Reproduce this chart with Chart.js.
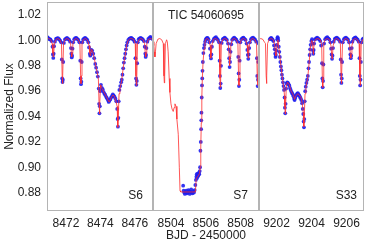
<!DOCTYPE html>
<html>
<head>
<meta charset="utf-8">
<script src="https://cdn.jsdelivr.net/npm/chart.js@4"></script>
<style>
  body { margin: 0; background: #fff; }
  #wrap { position: relative; width: 366px; height: 246px; }
  #wrap canvas { position: absolute; top: 0; }
</style>
</head>
<body>
<div id="wrap">
  <canvas id="c_s6" style="left:0px" width="153" height="246"></canvas>
  <canvas id="c_s7" style="left:153px" width="106" height="246"></canvas>
  <canvas id="c_s33" style="left:259px" width="107" height="246"></canvas>
</div>
<script>
// ---- data: [BJD-2450000, normalized flux] ----
const yRange = [0.8655, 1.0303];
const yTicks = [0.88, 0.90, 0.92, 0.94, 0.96, 0.98, 1.00, 1.02];

const s6Range = [8470.9, 8477.05];
const s6Ticks = [8472, 8474, 8476];
const s7Range = [8502.97, 8509.05];
const s7Ticks = [8504, 8506, 8508];
const s33Range = [9201.0, 9207.0];
const s33Ticks = [9202, 9204, 9206];

// model light curve (red line)
const s6Model = [
  [8470.90,1.0010],[8471.00,1.0015],[8471.12,1.0005],[8471.20,0.9975],[8471.24,0.9900],[8471.264,0.9870],
  [8471.29,0.9900],[8471.33,0.9975],[8471.42,1.0008],[8471.53,1.0015],[8471.65,1.0005],[8471.74,0.9975],
  [8471.78,0.9720],[8471.80,0.9660],[8471.82,0.9720],[8471.86,0.9975],[8471.95,1.0008],[8472.07,1.0015],
  [8472.19,1.0005],[8472.27,0.9975],[8472.31,0.9900],[8472.336,0.9870],[8472.36,0.9900],[8472.40,0.9975],
  [8472.49,1.0008],[8472.60,1.0015],[8472.72,1.0005],[8472.81,0.9975],[8472.85,0.9720],[8472.872,0.9660],
  [8472.89,0.9720],[8472.93,0.9975],[8473.02,1.0008],[8473.14,1.0015],[8473.26,1.0000],[8473.34,0.9960],
  [8473.38,0.9900],[8473.41,0.9880],[8473.44,0.9900],[8473.50,0.9930],[8473.58,0.9900],[8473.70,0.9820],
  [8473.79,0.9760],[8473.88,0.9700],[8473.92,0.9500],[8473.944,0.9420],[8473.97,0.9500],[8474.01,0.9650],
  [8474.10,0.9620],[8474.21,0.9590],[8474.33,0.9560],[8474.44,0.9530],[8474.50,0.9515],[8474.56,0.9530],
  [8474.67,0.9560],[8474.73,0.9570],[8474.80,0.9560],[8474.90,0.9520],[8474.97,0.9480],[8474.995,0.9380],
  [8475.016,0.9315],[8475.04,0.9400],[8475.08,0.9580],[8475.13,0.9620],[8475.23,0.9680],[8475.30,0.9760],
  [8475.36,0.9820],[8475.42,0.9870],[8475.52,0.9960],[8475.60,1.0000],[8475.70,1.0012],[8475.82,1.0015],
  [8475.94,1.0005],[8476.02,0.9975],[8476.06,0.9720],[8476.088,0.9645],[8476.11,0.9720],[8476.15,0.9975],
  [8476.24,1.0008],[8476.36,1.0015],[8476.48,1.0005],[8476.56,0.9975],[8476.60,0.9900],[8476.624,0.9870],
  [8476.65,0.9900],[8476.69,0.9975],[8476.78,1.0008],[8476.90,1.0015],[8477.05,1.0005]
];
const s7Model = [
  [8502.97,0.9990],[8503.02,0.9960],[8503.05,0.9910],[8503.08,0.9870],[8503.11,0.9910],[8503.15,0.9975],
  [8503.25,1.0010],[8503.36,1.0015],[8503.47,1.0005],[8503.56,0.9975],[8503.60,0.9720],[8503.62,0.9665],
  [8503.64,0.9720],[8503.68,0.9975],[8503.75,1.0005],[8503.79,0.9990],[8503.84,0.9910],[8503.90,0.9700],
  [8503.94,0.9590],[8504.00,0.9500],[8504.06,0.9460],[8504.13,0.9440],[8504.18,0.9470],[8504.23,0.9500],
  [8504.29,0.9480],[8504.34,0.9380],[8504.42,0.9260],[8504.48,0.9000],[8504.52,0.8815],[8504.56,0.8805],
  [8505.40,0.8805],[8505.45,0.8910],[8505.55,0.8930],[8505.64,0.8950],[8505.68,0.9000],[8505.71,0.9160],
  [8505.74,0.9350],[8505.77,0.9550],[8505.80,0.9700],[8505.84,0.9830],[8505.90,0.9930],[8505.95,0.9990],
  [8506.02,1.0012],[8506.10,1.0015],[8506.19,1.0000],[8506.25,0.9960],[8506.27,0.9900],[8506.295,0.9860],
  [8506.32,0.9900],[8506.36,0.9970],[8506.45,1.0010],[8506.56,1.0015],[8506.68,1.0005],[8506.77,0.9975],
  [8506.81,0.9700],[8506.83,0.9630],[8506.85,0.9700],[8506.89,0.9975],[8506.98,1.0008],[8507.10,1.0015],
  [8507.22,1.0005],[8507.30,0.9960],[8507.34,0.9870],[8507.365,0.9800],[8507.39,0.9870],[8507.43,0.9960],
  [8507.52,1.0008],[8507.63,1.0015],[8507.75,1.0005],[8507.84,0.9975],[8507.88,0.9700],[8507.90,0.9645],
  [8507.92,0.9700],[8507.96,0.9975],[8508.05,1.0008],[8508.17,1.0015],[8508.29,1.0005],[8508.37,0.9965],
  [8508.41,0.9900],[8508.435,0.9860],[8508.46,0.9900],[8508.50,0.9965],[8508.59,1.0008],[8508.70,1.0015],
  [8508.82,1.0005],[8508.91,0.9975],[8508.95,0.9700],[8508.97,0.9645],[8508.99,0.9700],[8509.03,0.9975],
  [8509.06,1.0005]
];
const s33Model = [
  [9201.00,1.0005],[9201.10,1.0015],[9201.22,1.0008],[9201.32,0.9985],[9201.37,0.9975],[9201.41,0.9720],
  [9201.43,0.9660],[9201.45,0.9720],[9201.49,0.9975],[9201.58,1.0008],[9201.70,1.0015],[9201.82,1.0005],
  [9201.90,0.9960],[9201.94,0.9900],[9201.965,0.9880],[9201.99,0.9900],[9202.03,0.9975],[9202.08,1.0005],
  [9202.16,0.9910],[9202.25,0.9800],[9202.34,0.9700],[9202.42,0.9620],[9202.46,0.9560],[9202.48,0.9470],
  [9202.50,0.9420],[9202.52,0.9480],[9202.56,0.9640],[9202.63,0.9670],[9202.73,0.9650],[9202.82,0.9605],
  [9202.92,0.9580],[9202.98,0.9560],[9203.035,0.9535],[9203.09,0.9560],[9203.21,0.9580],[9203.30,0.9570],
  [9203.40,0.9550],[9203.47,0.9500],[9203.53,0.9430],[9203.55,0.9370],[9203.57,0.9320],[9203.59,0.9400],
  [9203.63,0.9580],[9203.68,0.9630],[9203.78,0.9700],[9203.87,0.9830],[9203.93,0.9940],[9204.01,1.0000],
  [9204.06,0.9990],[9204.09,0.9920],[9204.105,0.9890],[9204.12,0.9920],[9204.16,0.9985],[9204.25,1.0010],
  [9204.37,1.0015],[9204.49,1.0005],[9204.58,0.9975],[9204.62,0.9700],[9204.64,0.9630],[9204.66,0.9700],
  [9204.70,0.9975],[9204.79,1.0008],[9204.91,1.0015],[9205.03,1.0005],[9205.11,0.9960],[9205.15,0.9890],
  [9205.175,0.9855],[9205.20,0.9890],[9205.24,0.9960],[9205.33,1.0008],[9205.44,1.0015],[9205.56,1.0005],
  [9205.65,0.9975],[9205.69,0.9720],[9205.71,0.9660],[9205.73,0.9720],[9205.77,0.9975],[9205.86,1.0008],
  [9205.98,1.0015],[9206.10,1.0005],[9206.18,0.9960],[9206.22,0.9890],[9206.245,0.9860],[9206.27,0.9890],
  [9206.31,0.9960],[9206.40,1.0008],[9206.51,1.0015],[9206.63,1.0005],[9206.72,0.9975],[9206.76,0.9720],
  [9206.78,0.9645],[9206.80,0.9720],[9206.84,0.9975],[9206.93,1.0008],[9207.00,1.0012]
];

// TESS photometry (blue points)
const s6Flux = [
  [8470.92,1.0026],[8470.98,1.0018],[8471.04,1.0010],[8471.10,1.0008],[8471.16,0.9995],[8471.22,0.9950],
  [8471.243,0.9890],[8471.264,0.9862],[8471.285,0.9895],[8471.31,0.9955],[8471.36,0.9990],[8471.42,1.0012],
  [8471.48,1.0016],[8471.54,1.0018],[8471.60,1.0010],[8471.66,1.0000],[8471.72,0.9985],[8471.76,0.9850],
  [8471.78,0.9700],[8471.80,0.9672],[8471.82,0.9690],[8471.84,0.9830],[8471.88,0.9980],[8471.94,1.0008],
  [8472.00,1.0014],[8472.06,1.0020],[8472.12,1.0012],[8472.18,1.0006],[8472.24,0.9990],[8472.29,0.9940],
  [8472.315,0.9895],[8472.336,0.9866],[8472.357,0.9880],[8472.38,0.9935],[8472.42,0.9985],[8472.48,1.0010],
  [8472.54,1.0018],[8472.60,1.0020],[8472.66,1.0012],[8472.72,1.0004],[8472.78,0.9985],[8472.83,0.9840],
  [8472.851,0.9700],[8472.872,0.9655],[8472.893,0.9675],[8472.914,0.9830],[8472.95,0.9985],[8473.00,1.0008],
  [8473.06,1.0016],[8473.12,1.0020],[8473.18,1.0012],[8473.24,1.0004],[8473.30,0.9985],[8473.34,0.9945],
  [8473.387,0.9895],[8473.408,0.9880],[8473.43,0.9890],[8473.47,0.9925],[8473.52,0.9920],[8473.58,0.9895],
  [8473.64,0.9860],[8473.70,0.9815],[8473.75,0.9785],[8473.80,0.9750],[8473.85,0.9715],[8473.90,0.9620],
  [8473.923,0.9500],[8473.944,0.9425],[8473.965,0.9480],[8473.99,0.9600],[8474.03,0.9650],[8474.08,0.9625],
  [8474.13,0.9615],[8474.18,0.9595],[8474.23,0.9580],[8474.28,0.9570],[8474.33,0.9555],[8474.38,0.9545],
  [8474.43,0.9530],[8474.48,0.9515],[8474.52,0.9525],[8474.57,0.9535],[8474.62,0.9550],[8474.67,0.9560],
  [8474.72,0.9575],[8474.77,0.9565],[8474.82,0.9555],[8474.87,0.9540],[8474.92,0.9520],[8474.974,0.9460],
  [8474.995,0.9380],[8475.016,0.9320],[8475.037,0.9390],[8475.06,0.9520],[8475.10,0.9610],[8475.15,0.9640],
  [8475.20,0.9670],[8475.24,0.9690],[8475.28,0.9730],[8475.32,0.9780],[8475.36,0.9825],[8475.40,0.9860],
  [8475.44,0.9895],[8475.48,0.9930],[8475.52,0.9960],[8475.56,0.9985],[8475.62,1.0005],[8475.68,1.0014],
  [8475.74,1.0018],[8475.80,1.0020],[8475.86,1.0012],[8475.92,1.0006],[8475.98,0.9990],[8476.03,0.9860],
  [8476.067,0.9700],[8476.088,0.9650],[8476.109,0.9680],[8476.13,0.9820],[8476.17,0.9985],[8476.22,1.0010],
  [8476.28,1.0016],[8476.34,1.0020],[8476.40,1.0014],[8476.46,1.0008],[8476.52,0.9995],[8476.57,0.9950],
  [8476.603,0.9895],[8476.624,0.9870],[8476.645,0.9885],[8476.67,0.9940],[8476.72,0.9990],[8476.78,1.0012],
  [8476.84,1.0020],[8476.90,1.0028],[8476.96,1.0018],[8477.02,1.0012]
];
const s7Flux = [
  [8504.70,0.8855],[8504.73,0.8815],[8504.76,0.8800],[8504.80,0.8790],[8504.84,0.8805],[8504.88,0.8815],
  [8504.92,0.8795],[8504.96,0.8800],[8505.00,0.8820],[8505.04,0.8810],[8505.08,0.8790],[8505.12,0.8805],
  [8505.16,0.8825],[8505.20,0.8800],[8505.24,0.8795],[8505.28,0.8810],[8505.32,0.8800],[8505.36,0.8820],
  [8505.40,0.8860],[8505.43,0.8900],[8505.46,0.8925],[8505.48,0.8945],[8505.50,0.8915],[8505.52,0.8935],
  [8505.54,0.8950],[8505.56,0.8930],[8505.58,0.8940],[8505.60,0.8955],[8505.62,0.8945],[8505.65,0.8970],
  [8505.67,0.9000],[8505.69,0.9130],[8505.71,0.9200],[8505.73,0.9300],[8505.74,0.9370],[8505.75,0.9430],
  [8505.765,0.9550],[8505.78,0.9645],[8505.795,0.9700],[8505.81,0.9760],[8505.83,0.9830],[8505.86,0.9900],
  [8505.89,0.9940],[8505.92,0.9965],[8505.96,0.9990],[8506.00,1.0010],[8506.05,1.0018],[8506.10,1.0020],
  [8506.15,1.0010],[8506.20,0.9985],[8506.24,0.9935],[8506.27,0.9880],[8506.295,0.9858],[8506.32,0.9890],
  [8506.35,0.9950],[8506.40,0.9995],[8506.46,1.0012],[8506.52,1.0020],[8506.58,1.0025],[8506.64,1.0014],
  [8506.70,1.0004],[8506.76,0.9985],[8506.79,0.9840],[8506.81,0.9720],[8506.83,0.9625],[8506.85,0.9660],
  [8506.87,0.9800],[8506.91,0.9980],[8506.97,1.0010],[8507.03,1.0016],[8507.09,1.0022],[8507.15,1.0012],
  [8507.21,1.0004],[8507.27,0.9975],[8507.31,0.9930],[8507.34,0.9860],[8507.365,0.9790],[8507.39,0.9830],
  [8507.42,0.9910],[8507.46,0.9970],[8507.51,1.0005],[8507.57,1.0015],[8507.63,1.0022],[8507.69,1.0014],
  [8507.75,1.0006],[8507.81,0.9990],[8507.86,0.9870],[8507.88,0.9740],[8507.90,0.9640],[8507.92,0.9690],
  [8507.94,0.9840],[8507.98,0.9985],[8508.04,1.0010],[8508.10,1.0018],[8508.16,1.0022],[8508.22,1.0012],
  [8508.28,1.0004],[8508.34,0.9975],[8508.38,0.9925],[8508.41,0.9885],[8508.435,0.9855],[8508.46,0.9890],
  [8508.49,0.9940],[8508.53,0.9985],[8508.59,1.0010],[8508.65,1.0018],[8508.71,1.0022],[8508.77,1.0014],
  [8508.83,1.0006],[8508.89,0.9990],[8508.93,0.9860],[8508.95,0.9720],[8508.97,0.9640],[8508.99,0.9690],
  [8509.01,0.9830],[8509.04,0.9975]
];
const s33Flux = [
  [9201.62,1.0010],[9201.66,1.0016],[9201.70,1.0020],[9201.74,1.0012],[9201.78,1.0006],[9201.82,0.9995],
  [9201.86,0.9960],[9201.90,0.9930],[9201.925,0.9895],[9201.945,0.9870],[9201.965,0.9885],[9201.99,0.9920],
  [9202.01,0.9965],[9202.04,1.0010],[9202.06,1.0026],[9202.08,1.0018],[9202.10,1.0000],[9202.13,0.9950],
  [9202.16,0.9910],[9202.19,0.9870],[9202.22,0.9830],[9202.25,0.9795],[9202.28,0.9765],[9202.31,0.9730],
  [9202.34,0.9700],[9202.37,0.9670],[9202.40,0.9640],[9202.43,0.9610],[9202.46,0.9550],[9202.48,0.9470],
  [9202.50,0.9425],[9202.52,0.9500],[9202.55,0.9620],[9202.58,0.9660],[9202.61,0.9670],[9202.65,0.9665],
  [9202.69,0.9655],[9202.73,0.9645],[9202.77,0.9625],[9202.81,0.9610],[9202.85,0.9595],[9202.89,0.9585],
  [9202.93,0.9575],[9202.97,0.9560],[9203.01,0.9540],[9203.035,0.9530],[9203.06,0.9545],[9203.10,0.9560],
  [9203.14,0.9570],[9203.18,0.9580],[9203.22,0.9585],[9203.26,0.9575],[9203.30,0.9565],[9203.34,0.9555],
  [9203.38,0.9545],[9203.42,0.9530],[9203.46,0.9505],[9203.50,0.9460],[9203.53,0.9420],[9203.55,0.9360],
  [9203.57,0.9315],[9203.59,0.9380],[9203.61,0.9520],[9203.64,0.9600],[9203.67,0.9635],[9203.71,0.9665],
  [9203.75,0.9690],[9203.79,0.9720],[9203.83,0.9780],[9203.86,0.9830],[9203.89,0.9885],[9203.92,0.9930],
  [9203.95,0.9965],[9203.99,0.9995],[9204.03,1.0010],[9204.07,0.9975],[9204.09,0.9920],[9204.105,0.9895],
  [9204.125,0.9925],[9204.15,0.9975],[9204.20,1.0008],[9204.26,1.0016],[9204.32,1.0022],[9204.38,1.0016],
  [9204.44,1.0008],[9204.50,0.9995],[9204.55,0.9960],[9204.60,0.9820],[9204.62,0.9700],[9204.64,0.9630],
  [9204.66,0.9680],[9204.68,0.9810],[9204.72,0.9975],[9204.78,1.0010],[9204.84,1.0020],[9204.90,1.0026],
  [9204.96,1.0016],[9205.02,1.0008],[9205.08,0.9985],[9205.12,0.9935],[9205.15,0.9890],[9205.175,0.9855],
  [9205.20,0.9880],[9205.23,0.9940],[9205.27,0.9990],[9205.33,1.0012],[9205.39,1.0018],[9205.45,1.0022],
  [9205.51,1.0014],[9205.57,1.0006],[9205.63,0.9990],[9205.67,0.9850],[9205.69,0.9730],[9205.71,0.9665],
  [9205.73,0.9700],[9205.75,0.9830],[9205.79,0.9985],[9205.85,1.0010],[9205.91,1.0018],[9205.97,1.0022],
  [9206.03,1.0014],[9206.09,1.0006],[9206.15,0.9985],[9206.19,0.9935],[9206.22,0.9890],[9206.245,0.9860],
  [9206.27,0.9880],[9206.30,0.9940],[9206.34,0.9990],[9206.40,1.0012],[9206.46,1.0020],[9206.52,1.0024],
  [9206.58,1.0014],[9206.64,1.0006],[9206.70,0.9990],[9206.74,0.9860],[9206.76,0.9720],[9206.78,0.9645],
  [9206.80,0.9690],[9206.82,0.9830],[9206.86,0.9985],[9206.92,1.0010],[9206.98,1.0016]
];

Chart.defaults.font.family = "'Liberation Sans', Arial, Helvetica, sans-serif";
Chart.defaults.font.size = 12;
Chart.defaults.color = '#222';

// box round each panel plus the sector / target labels
const panelFrame = {
  id: 'panelFrame',
  afterDraw(chart, args, opts) {
    const {ctx, chartArea: a} = chart;
    ctx.save();
    ctx.strokeStyle = '#b4b4b4';
    ctx.lineWidth = 1;
    ctx.strokeRect(a.left + 0.5, a.top + 0.5, a.right - a.left - 1, a.bottom - a.top - 1);
    ctx.fillStyle = '#222';
    ctx.font = "12px 'Liberation Sans', Arial, sans-serif";
    ctx.textBaseline = 'middle';
    ctx.textAlign = 'right';
    ctx.fillText(opts.sector, a.right - opts.dx, 196);
    if (opts.title) {
      ctx.textAlign = 'center';
      ctx.fillText(opts.title, (a.left + a.right) / 2, 16);
    }
    ctx.restore();
  }
};

const toXY = arr => arr.map(p => ({x: p[0], y: p[1]}));

function drawPanel(id, model, flux, xRange, xTicks, cfg) {
  var ctx = document.getElementById(id).getContext('2d');
  return new Chart(ctx, {
    type: 'scatter',
    plugins: [panelFrame],
    data: {
      datasets: [{
        label: 'model',
        data: toXY(model),
        showLine: true,
        borderColor: 'rgba(255,45,45,0.8)',
        borderWidth: 1,
        pointRadius: 0,
        tension: 0,
        order: 0
      }, {
        label: 'TESS',
        data: toXY(flux),
        pointRadius: 1.9,
        pointBackgroundColor: 'rgba(30,30,240,0.9)',
        pointBorderWidth: 0,
        order: 1
      }]
    },
    options: {
      responsive: false,
      animation: false,
      events: [],
      layout: { autoPadding: false, padding: { top: 2, right: cfg.padRight, left: 0, bottom: 0 } },
      plugins: {
        legend: { display: false },
        tooltip: { enabled: false },
        panelFrame: { sector: cfg.sector, dx: cfg.dx, title: cfg.title }
      },
      scales: {
        x: {
          type: 'linear',
          min: xRange[0],
          max: xRange[1],
          afterBuildTicks: s => { s.ticks = xTicks.map(v => ({value: v})); },
          afterFit: s => { s.height = 35; s.paddingLeft = 0; s.paddingRight = 0; },
          grid: { display: false, drawTicks: false },
          border: { display: false },
          ticks: { padding: 5, maxRotation: 0, callback: v => String(v) },
          title: { display: !!cfg.xTitle, text: cfg.xTitle || '', padding: { top: 0, bottom: 3 } }
        },
        y: {
          type: 'linear',
          display: cfg.showY,
          min: yRange[0],
          max: yRange[1],
          afterBuildTicks: s => { s.ticks = yTicks.map(v => ({value: v})); },
          afterFit: s => { s.width = cfg.showY ? 47 : 0; s.paddingTop = 0; s.paddingBottom = 0; },
          grid: { display: false, drawTicks: false },
          border: { display: false },
          ticks: { padding: 6, callback: v => v.toFixed(2) },
          title: { display: cfg.showY, text: 'Normalized Flux', padding: { top: 2, bottom: 0 } }
        }
      }
    }
  });
}

drawPanel('c_s6', s6Model, s6Flux, s6Range, s6Ticks, { showY: true, padRight: 0, sector: 'S6', dx: 10 });
drawPanel('c_s7', s7Model, s7Flux, s7Range, s7Ticks, { showY: false, padRight: 0, sector: 'S7', dx: 11, title: 'TIC 54060695', xTitle: 'BJD - 2450000' });
drawPanel('c_s33', s33Model, s33Flux, s33Range, s33Ticks, { showY: false, padRight: 2, sector: 'S33', dx: 7 });
</script>
</body>
</html>
